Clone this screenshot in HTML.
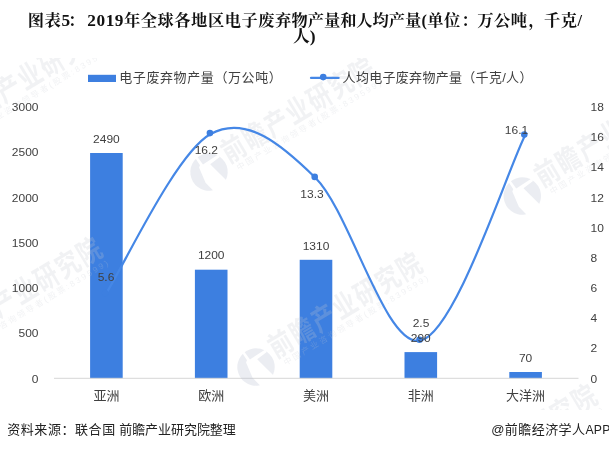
<!DOCTYPE html>
<html lang="zh"><head><meta charset="utf-8"><title>chart</title>
<style>
html,body{margin:0;padding:0;background:#fff}
#c{position:relative;width:609px;height:450px;overflow:hidden;background:#fff}
svg{display:block}
</style></head><body><div id="c">
<svg width="609" height="450" viewBox="0 0 609 450">
<defs><clipPath id="wc"><rect x="0" y="58" width="609" height="352"/></clipPath>
<clipPath id="lc"><circle cx="0" cy="0" r="18.7"/></clipPath>
<g id="wm"><path clip-path="url(#lc)" fill="#b6bfd2" fill-opacity="0.28" fill-rule="evenodd" d="M-20,-20 H20 V20 H-20 Z M-4.6,-20 L-2.2,-20 L-1.3,-9.6 L17,-10.3 L17,-7.4 L5,-6 L10,14 L11.5,20 L-5.5,20 L-8.5,7.5 L-6.2,-9 L-4.2,-10.5 Z"/><text transform="translate(21.5,3.2) scale(0.8,1)" font-family="'Liberation Sans','Noto Sans CJK SC',sans-serif" font-weight="bold" font-size="29" letter-spacing="2.25">前瞻产业研究院</text><text x="26" y="14.3" font-family="'Liberation Sans','Noto Sans CJK SC',sans-serif" font-size="8.2" letter-spacing="2.2">中国产业咨询领导者(股票:839599)</text></g>
</defs>
<rect width="609" height="450" fill="#fff"/>
<rect x="90.1" y="153.0" width="32.6" height="225.3" fill="#3d7fe0"/>
<rect x="194.9" y="269.7" width="32.6" height="108.6" fill="#3d7fe0"/>
<rect x="299.7" y="259.8" width="32.6" height="118.5" fill="#3d7fe0"/>
<rect x="404.5" y="352.1" width="32.6" height="26.2" fill="#3d7fe0"/>
<rect x="509.3" y="372.0" width="32.6" height="6.3" fill="#3d7fe0"/>
<rect x="54" y="377.8" width="524.5" height="1" fill="#d6d6d6"/>
<g clip-path="url(#wc)" fill="#c4c8d0" fill-opacity="0.24">
<use href="#wm" transform="translate(209,172) rotate(-31)"/>
<use href="#wm" transform="translate(522.3,196) rotate(-31)"/>
<use href="#wm" transform="translate(256,367) rotate(-31)"/>
<use href="#wm" transform="translate(-64,352) rotate(-31)"/>
<use href="#wm" transform="translate(-59,137.5) rotate(-31)"/>
<use href="#wm" transform="translate(431,499) rotate(-31)"/>
</g>
<path d="M105.80,293.86 C123.27,267.23 175.67,153.39 210.60,134.04 C245.53,114.69 280.47,143.34 315.40,177.77 C350.33,212.19 385.27,347.64 420.20,340.61 C455.13,333.57 507.53,169.72 525.00,135.55" fill="none" stroke="#4587e6" stroke-width="2.2" stroke-linecap="round"/>
<circle cx="105.1" cy="293.0" r="3.3" fill="#3d7fe0"/>
<circle cx="209.9" cy="133.1" r="3.3" fill="#3d7fe0"/>
<circle cx="314.7" cy="176.9" r="3.3" fill="#3d7fe0"/>
<circle cx="419.5" cy="339.7" r="3.3" fill="#3d7fe0"/>
<circle cx="524.3" cy="134.6" r="3.3" fill="#3d7fe0"/>
<g font-family="'Liberation Sans','Noto Sans CJK SC',sans-serif" font-size="10.9" fill="#404040">
<text transform="translate(38.5,382.5) scale(1.1,1)" text-anchor="end">0</text>
<text transform="translate(38.5,337.3) scale(1.1,1)" text-anchor="end">500</text>
<text transform="translate(38.5,292.0) scale(1.1,1)" text-anchor="end">1000</text>
<text transform="translate(38.5,246.8) scale(1.1,1)" text-anchor="end">1500</text>
<text transform="translate(38.5,201.6) scale(1.1,1)" text-anchor="end">2000</text>
<text transform="translate(38.5,156.3) scale(1.1,1)" text-anchor="end">2500</text>
<text transform="translate(38.5,111.1) scale(1.1,1)" text-anchor="end">3000</text>
<text transform="translate(590.6,382.5) scale(1.1,1)" text-anchor="start">0</text>
<text transform="translate(590.6,352.3) scale(1.1,1)" text-anchor="start">2</text>
<text transform="translate(590.6,322.2) scale(1.1,1)" text-anchor="start">4</text>
<text transform="translate(590.6,292.0) scale(1.1,1)" text-anchor="start">6</text>
<text transform="translate(590.6,261.9) scale(1.1,1)" text-anchor="start">8</text>
<text transform="translate(590.6,231.7) scale(1.1,1)" text-anchor="start">10</text>
<text transform="translate(590.6,201.6) scale(1.1,1)" text-anchor="start">12</text>
<text transform="translate(590.6,171.4) scale(1.1,1)" text-anchor="start">14</text>
<text transform="translate(590.6,141.3) scale(1.1,1)" text-anchor="start">16</text>
<text transform="translate(590.6,111.1) scale(1.1,1)" text-anchor="start">18</text>
<text transform="translate(106.4,142.7) scale(1.1,1)" text-anchor="middle">2490</text>
<text transform="translate(211.2,259.4) scale(1.1,1)" text-anchor="middle">1200</text>
<text transform="translate(316.0,249.5) scale(1.1,1)" text-anchor="middle">1310</text>
<text transform="translate(420.8,341.8) scale(1.1,1)" text-anchor="middle">290</text>
<text transform="translate(525.6,361.7) scale(1.1,1)" text-anchor="middle">70</text>
<text transform="translate(106.0,281.0) scale(1.1,1)" text-anchor="middle">5.6</text>
<text transform="translate(206.3,153.6) scale(1.1,1)" text-anchor="middle">16.2</text>
<text transform="translate(312.0,198.0) scale(1.1,1)" text-anchor="middle">13.3</text>
<text transform="translate(421.0,327.0) scale(1.1,1)" text-anchor="middle">2.5</text>
<text transform="translate(516.5,133.8) scale(1.1,1)" text-anchor="middle">16.1</text>
<text x="106.4" y="400" text-anchor="middle" font-size="13">亚洲</text>
<text x="211.2" y="400" text-anchor="middle" font-size="13">欧洲</text>
<text x="316.0" y="400" text-anchor="middle" font-size="13">美洲</text>
<text x="420.8" y="400" text-anchor="middle" font-size="13">非洲</text>
<text x="525.6" y="400" text-anchor="middle" font-size="13">大洋洲</text>
</g>
<rect x="88" y="74.8" width="28" height="7.2" fill="#3d7fe0"/>
<text x="119.2" y="82" font-family="'Liberation Sans','Noto Sans CJK SC',sans-serif" font-size="13" fill="#404040" letter-spacing="0.6">电子废弃物产量（万公吨）</text>
<path d="M311,77.9 H338.6" stroke="#4587e6" stroke-width="2.2" stroke-linecap="round"/>
<circle cx="323.2" cy="77.1" r="3.3" fill="#3d7fe0"/>
<text x="342.6" y="82" font-family="'Liberation Sans','Noto Sans CJK SC',sans-serif" font-size="13" fill="#404040" letter-spacing="0.3">人均电子废弃物产量（千克/人）</text>
<g font-family="'Liberation Serif','Noto Serif CJK SC',serif" font-weight="bold" font-size="16.3" fill="#111">
<text id="t1" x="27.8" y="26" textLength="263.6" lengthAdjust="spacing">图表<tspan font-size="17.3">5</tspan><tspan dx="-2.5">：</tspan><tspan font-size="17.3" dx="2.5">2019</tspan>年全球各地区电子废弃</text>
<text id="t2" x="291.4" y="26" textLength="130" lengthAdjust="spacing">物产量和人均产量</text>
<text id="t3" x="421.4" y="26" textLength="160.6" lengthAdjust="spacing">(单位<tspan dx="0.6">：</tspan><tspan dx="-0.6">万</tspan>公吨<tspan dx="1">，</tspan><tspan dx="-1">千</tspan>克/</text>
<text id="t4" x="292.9" y="41.8" font-size="16.8">人<tspan font-size="17.5">)</tspan></text>
</g>
<g font-family="'Liberation Sans','Noto Sans CJK SC',sans-serif" font-size="13" fill="#222">
<text id="f1" x="7.2" y="433.8" textLength="108" lengthAdjust="spacing">资料来源：联合国</text>
<text id="f2" x="119.2" y="433.8" textLength="116.6" lengthAdjust="spacing">前瞻产业研究院整理</text>
<text id="f3" x="491.2" y="433.8" letter-spacing="0.44">@前瞻经济学人<tspan font-size="12.2" letter-spacing="0.2">APP</tspan></text>
</g>
</svg>
</div></body></html>
